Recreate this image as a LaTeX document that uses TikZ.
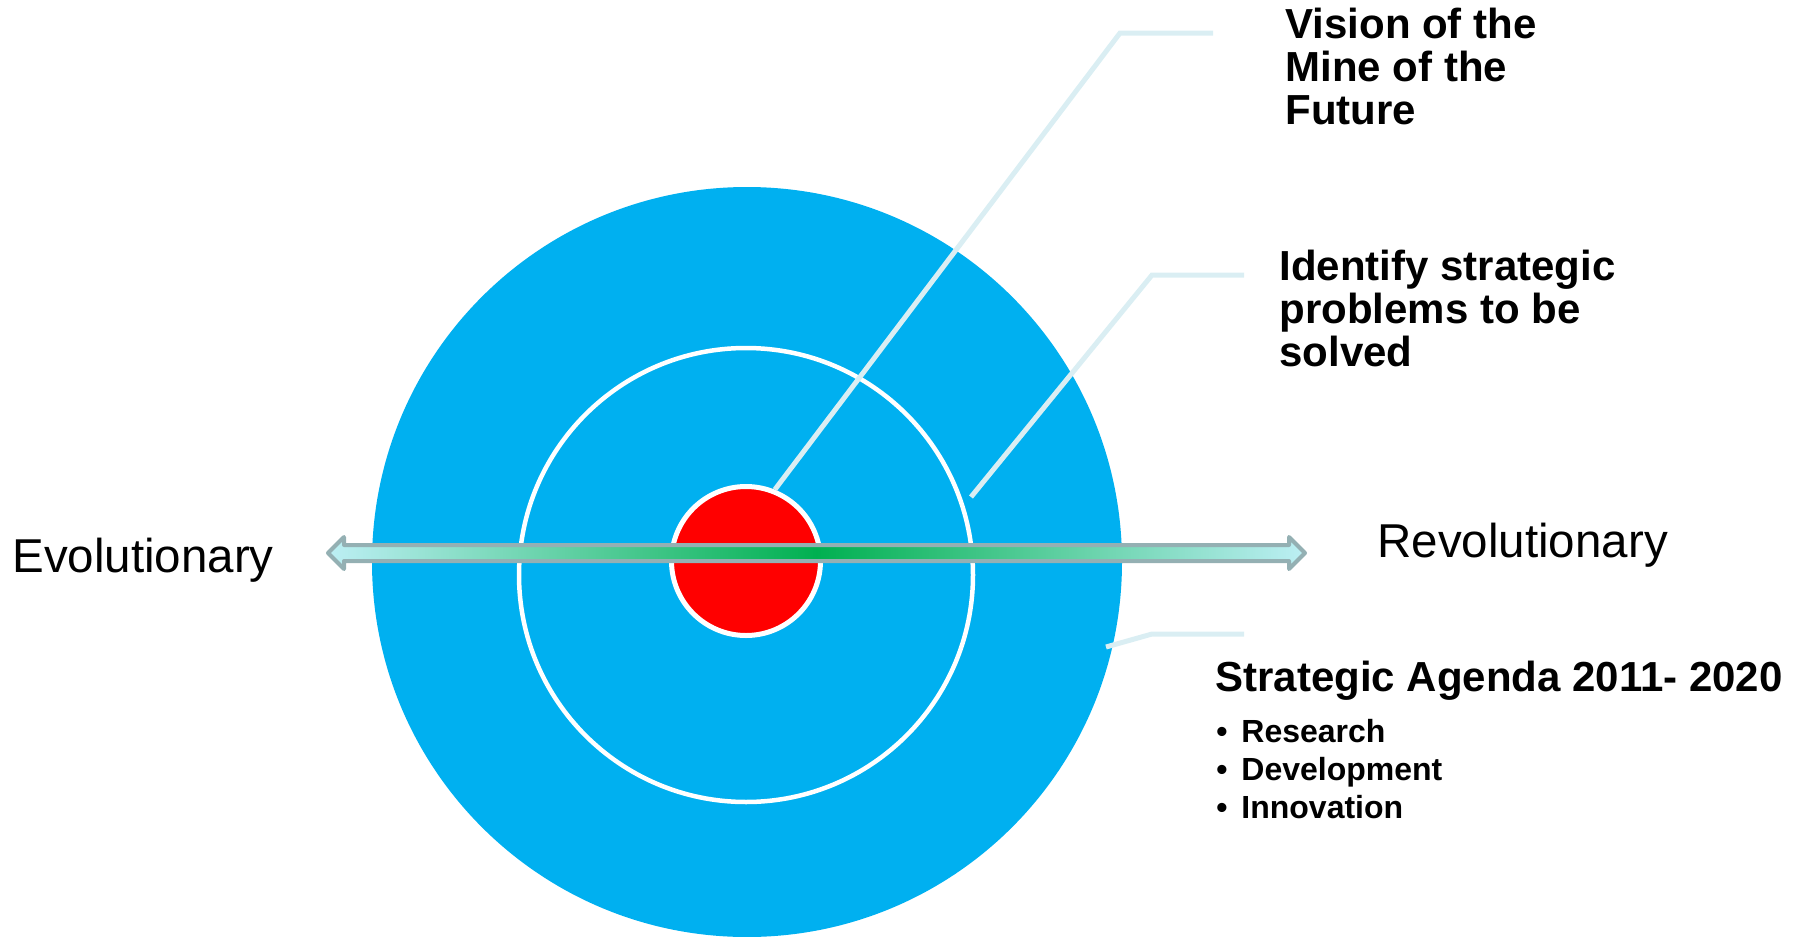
\documentclass[tikz,border=0pt]{standalone}
\usepackage{fontspec}
\setmainfont{Liberation Sans}
\usetikzlibrary{positioning}

\definecolor{targetblue}{HTML}{00B0F0}
\definecolor{leadergray}{HTML}{DAEEF3}
\definecolor{arrowrim}{HTML}{94B0B3}
\definecolor{arrowtint}{HTML}{BDEFF4}
\definecolor{arrowgreen}{HTML}{00B050}

\tikzset{
  leader/.style={draw=leadergray, line width=2.5pt},
  headtext/.style={anchor=base west, inner sep=0pt, align=left,
    font=\fontsize{21}{21.5}\selectfont\bfseries},
  sidetext/.style={anchor=base west, inner sep=0pt,
    font=\fontsize{23.75}{26}\selectfont}
}

\begin{document}
\begin{tikzpicture}[x=0.5pt, y=-0.5pt]
  \useasboundingbox (0,0) rectangle (1810,937);

  % rings
  \node[circle, fill=targetblue, inner sep=0pt, minimum size=375pt] (outer) at (747,562) {};
  \node[circle, draw=white, line width=2.25pt, inner sep=0pt, minimum size=227pt] (ring) at (746,575) {};
  \node[circle, fill=red, draw=white, line width=2.5pt, inner sep=0pt, minimum size=74.5pt] (core) at (746,561) {};

  % leaders
  \coordinate (visbend) at (1120,33);
  \coordinate (visend) at (1213,33);
  \draw[leader] (core.68) -- (visbend) -- (visend);
  \coordinate (probstart) at (971,497);
  \coordinate (probbend) at (1152,275);
  \coordinate (probend) at (1244,275);
  \draw[leader] (probstart) -- (probbend) -- (probend);
  \coordinate (agstart) at (1106,647);
  \coordinate (agbend) at (1152,634);
  \coordinate (agend) at (1244,634);
  \draw[leader] (agstart) -- (agbend) -- (agend);

  % double arrow
  \draw[draw=arrowrim, line width=2pt, line join=round,
        left color=arrowtint, right color=arrowtint, middle color=arrowgreen]
    (328,553) -- (344,537) -- (344,545) -- (1289,545) -- (1289,537) -- (1305,553)
    -- (1289,569) -- (1289,561) -- (344,561) -- (344,569) -- cycle;

  % texts (base = last line)
  \node[headtext] (vision) at (1285,124) {Vision of the\\Mine of the\\Future};
  \node[headtext] (problems) at (1279,366) {Identify strategic\\problems to be\\solved};
  \node[headtext] (agenda) at (1215,691) {Strategic Agenda 2011- 2020};
  \node[anchor=base west, inner sep=0pt, align=left,
        font=\fontsize{16}{19}\selectfont\bfseries] (items) at (1216,818)
    {\makebox[12.5pt][l]{•}Research\\\makebox[12.5pt][l]{•}Development\\\makebox[12.5pt][l]{•}Innovation};
  \node[sidetext] (evol) at (12,572) {Evolutionary};
  \node[sidetext] (revol) at (1377,557) {Revolutionary};
\end{tikzpicture}
\end{document}
